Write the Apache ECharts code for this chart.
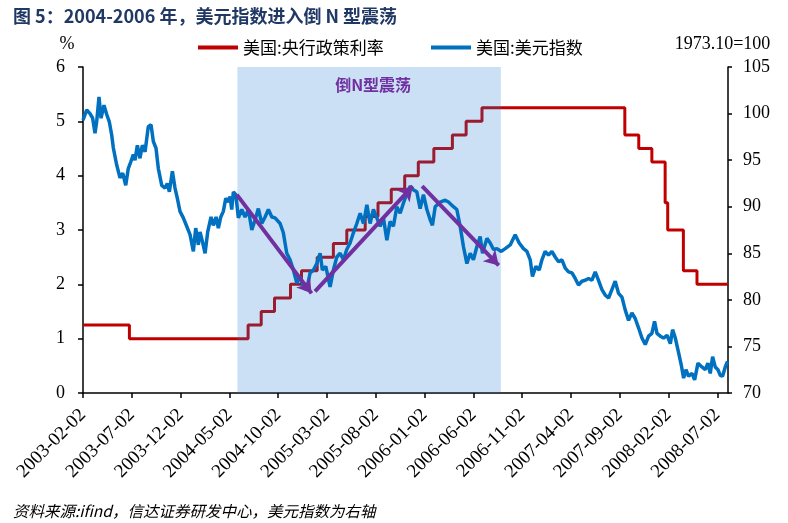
<!DOCTYPE html>
<html>
<head>
<meta charset="utf-8">
<script src="https://cdn.jsdelivr.net/npm/echarts@6/dist/echarts.min.js"></script>
<style>html,body{margin:0;padding:0;background:#fff}#c{width:788px;height:523px}</style>
</head>
<body>
<div id="c"></div>
<script>
// ---------- data ----------
const titleText = '图 5：2004-2006 年，美元指数进入倒 N 型震荡';
const sourceText = '资料来源:ifind，信达证券研发中心，美元指数为右轴';
const rateSeriesName = '美国:央行政策利率';
const dxySeriesName = '美国:美元指数';
const leftAxisName = '%';
const rightAxisName = '1973.10=100';

// x axis: months since 2003-02-02
const xTickLabels = ['2003-02-02','2003-07-02','2003-12-02','2004-05-02','2004-10-02','2005-03-02','2005-08-02',
  '2006-01-02','2006-06-02','2006-11-02','2007-04-02','2007-09-02','2008-02-02','2008-07-02'];
const xEndDate = '2008-08-05';

// Fed policy rate (%), change dates
const rateChanges = [
  ['2003-02-02',1.25],['2003-06-25',1.00],['2004-06-30',1.25],['2004-08-10',1.50],['2004-09-21',1.75],
  ['2004-11-10',2.00],['2004-12-14',2.25],['2005-02-02',2.50],['2005-03-22',2.75],['2005-05-03',3.00],
  ['2005-06-30',3.25],['2005-08-09',3.50],['2005-09-20',3.75],['2005-11-01',4.00],['2005-12-13',4.25],
  ['2006-01-31',4.50],['2006-03-28',4.75],['2006-05-10',5.00],['2006-06-29',5.25],['2007-09-18',4.75],
  ['2007-10-31',4.50],['2007-12-11',4.25],['2008-01-22',3.50],['2008-01-30',3.00],['2008-03-18',2.25],
  ['2008-04-30',2.00]
];

// US dollar index (1973.10=100): [months since 2003-02-02, value]
const dxyPoints = [
  [0.00,99.3],[0.38,100.4],[0.72,100.0],[0.99,99.5],[1.23,97.9],[1.40,99.1],[1.64,101.8],[1.85,99.5],
  [2.15,100.9],[2.43,99.9],[2.70,99.1],[2.94,97.7],[3.11,96.3],[3.45,94.5],[3.79,93.1],[4.07,93.6],
  [4.38,92.3],[4.64,94.1],[4.89,94.8],[5.16,95.6],[5.33,95.0],[5.57,96.6],[5.84,95.2],[6.08,96.6],
  [6.36,95.9],[6.69,98.6],[6.97,98.8],[7.21,97.0],[7.48,96.3],[7.72,94.1],[8.07,92.3],[8.41,92.0],
  [8.64,92.5],[8.85,91.6],[9.16,93.8],[9.43,92.0],[9.67,90.9],[9.94,89.5],[10.28,88.8],[10.63,87.9],
  [10.97,87.0],[11.31,85.2],[11.55,87.7],[11.82,85.9],[11.99,87.3],[12.23,86.3],[12.51,85.0],[12.78,87.3],
  [13.12,88.9],[13.36,88.0],[13.64,88.9],[13.87,87.7],[14.12,88.9],[14.38,89.5],[14.63,90.9],[14.90,90.5],
  [15.07,91.1],[15.24,89.7],[15.41,91.6],[15.66,91.3],[15.76,91.4],[15.92,88.8],[16.27,89.7],[16.61,88.9],
  [16.95,89.7],[17.30,87.5],[17.64,88.6],[17.97,89.8],[18.32,88.2],[18.66,88.9],[19.00,89.7],[19.35,88.9],
  [19.68,88.8],[20.20,88.2],[20.53,87.2],[20.88,85.0],[21.22,84.3],[21.56,83.2],[21.91,81.8],[22.25,82.5],
  [22.59,81.4],[22.93,81.1],[23.27,82.9],[23.61,83.2],[23.96,83.9],[24.30,85.0],[24.53,83.2],[24.88,83.6],
  [25.32,81.4],[25.66,83.2],[26.01,84.6],[26.35,85.0],[26.69,84.3],[27.03,85.4],[27.37,86.1],[27.71,87.2],
  [28.06,88.2],[28.40,89.3],[28.74,88.2],[29.09,90.2],[29.42,88.2],[29.76,89.7],[30.11,88.8],[30.45,87.9],
  [30.79,88.8],[31.14,86.4],[31.47,88.4],[31.81,87.9],[32.16,90.0],[32.50,89.3],[32.84,90.4],[33.19,91.4],
  [33.53,92.2],[33.87,91.8],[34.21,91.6],[34.55,89.8],[34.89,91.3],[35.24,89.7],[35.58,88.6],[35.81,88.0],
  [36.09,90.0],[36.60,90.5],[37.11,90.7],[37.45,90.5],[37.96,90.0],[38.31,89.7],[38.65,87.9],[38.99,85.7],
  [39.34,83.9],[39.68,85.0],[40.01,84.3],[40.36,85.7],[40.70,86.8],[40.94,85.0],[41.39,86.6],[41.73,86.1],
  [42.07,85.4],[42.42,85.5],[42.86,85.2],[43.27,85.5],[43.78,85.9],[44.29,87.0],[44.70,86.1],[45.14,85.5],
  [45.49,85.2],[45.83,84.3],[46.06,82.5],[46.41,83.6],[46.75,83.2],[47.03,84.3],[47.36,85.2],[47.70,84.8],
  [48.05,85.2],[48.39,84.6],[48.73,84.1],[49.08,84.3],[49.42,83.4],[49.76,83.0],[50.11,82.9],[50.44,82.3],
  [50.78,81.6],[51.13,82.0],[51.47,82.1],[51.81,82.3],[52.15,82.1],[52.49,83.0],[52.83,82.1],[53.18,81.1],
  [53.52,80.5],[53.86,80.2],[54.20,81.1],[54.54,82.0],[54.88,80.7],[55.23,80.3],[55.57,78.9],[55.91,77.8],
  [56.25,78.6],[56.59,78.0],[56.93,77.0],[57.28,75.9],[57.62,75.2],[57.96,76.1],[58.30,76.4],[58.57,77.7],
  [58.82,76.4],[59.16,76.1],[59.50,75.9],[59.85,76.2],[60.19,75.3],[60.42,76.8],[60.70,75.9],[61.04,74.3],
  [61.31,73.0],[61.55,71.6],[61.79,72.5],[62.06,71.8],[62.41,72.1],[62.68,71.4],[63.02,73.2],[63.43,72.8],
  [63.77,72.5],[64.04,73.2],[64.28,72.1],[64.52,73.9],[64.79,72.8],[65.07,72.5],[65.31,71.9],[65.54,71.8],
  [65.82,72.8],[66.05,73.4]
];

// shaded period and annotation
const shadeRange = ['2004-05-27','2006-08-27'];
const shadeLabel = '倒N型震荡';
// arrows: [[months, index], [months, index]] (index on right axis)
const arrowSegments = [
  [[15.76,91.3],[23.42,80.7]],
  [[23.78,80.9],[33.79,92.2]],
  [[34.75,92.2],[42.60,83.7]]
];

// ---------- helpers ----------
function toMonths(s){
  const p = s.split('-').map(Number);
  return (p[0]-2003)*12 + (p[1]-2) + (p[2]-2)/30.44;
}
const xMax = toMonths(xEndDate);
const rateData = rateChanges.map(r => [toMonths(r[0]), r[1]]);
rateData.push([xMax, rateChanges[rateChanges.length-1][1]]);

const serif = '"Liberation Serif","Times New Roman",serif';
const cjk = '"Noto Sans CJK SC","Noto Sans",sans-serif';

const chart = echarts.init(document.getElementById('c'), null, {renderer:'canvas'});
chart.setOption({
  animation: false,
  backgroundColor: '#fff',
  title: [
    {text: titleText, left: 8, top: 2,
     textStyle: {fontFamily: cjk, fontSize: 18, fontWeight: 'bold', color: '#1F3864'}},
    {text: sourceText, left: 8, top: 498,
     textStyle: {fontFamily: cjk, fontSize: 15.5, fontWeight: 'normal', fontStyle: 'italic', color: '#000'}}
  ],
  legend: [
    {data: [rateSeriesName], left: 193, top: 34, icon: 'rect', itemWidth: 40, itemHeight: 4,
     textStyle: {fontFamily: cjk, fontSize: 17, color: '#000'}},
    {data: [dxySeriesName], left: 426, top: 34, icon: 'rect', itemWidth: 40, itemHeight: 4,
     textStyle: {fontFamily: cjk, fontSize: 17, color: '#000'}}
  ],
  grid: {left: 83, right: 60, top: 67, bottom: 130, outerBoundsMode: 'none'},
  xAxis: {
    type: 'value', min: 0, max: xMax, interval: 5,
    splitLine: {show: false},
    axisLine: {lineStyle: {color: '#000', width: 1.5}},
    axisTick: {length: 5, lineStyle: {color: '#000', width: 1.5}},
    axisLabel: {
      rotate: 45, margin: 19, fontFamily: serif, fontSize: 19, color: '#000',
      showMaxLabel: false,
      formatter: v => (Math.abs(v/5 - Math.round(v/5)) < 1e-6 ? (xTickLabels[Math.round(v/5)] || '') : '')
    }
  },
  yAxis: [
    {type: 'value', min: 0, max: 6, interval: 1, position: 'left',
     name: leftAxisName, nameLocation: 'end', nameGap: 14,
     nameTextStyle: {fontFamily: serif, fontSize: 18, color: '#000', padding: [0, 32, 0, 0]},
     splitLine: {show: false},
     axisLine: {show: true, lineStyle: {color: '#000', width: 1.5}},
     axisTick: {show: true, length: 5, lineStyle: {color: '#000', width: 1.5}},
     axisLabel: {margin: 18, fontFamily: serif, fontSize: 18, color: '#000'}},
    {type: 'value', min: 70, max: 105, interval: 5, position: 'right',
     name: rightAxisName, nameLocation: 'end', nameGap: 14,
     nameTextStyle: {fontFamily: serif, fontSize: 18, color: '#000', padding: [0, 11, 0, 0]},
     splitLine: {show: false},
     axisLine: {show: true, lineStyle: {color: '#000', width: 1.5}},
     axisTick: {show: true, length: 4, lineStyle: {color: '#000', width: 1.5}},
     axisLabel: {margin: 15, fontFamily: serif, fontSize: 18, color: '#000'}}
  ],
  series: [
    {name: rateSeriesName, type: 'line', yAxisIndex: 0, step: 'end', data: rateData,
     showSymbol: false, symbol: 'none', z: 2, color: '#C00000',
     lineStyle: {color: '#C00000', width: 3}},
    {name: 'shade', type: 'custom', coordinateSystem: 'cartesian2d', yAxisIndex: 0, z: 3,
     data: [[toMonths(shadeRange[0]), toMonths(shadeRange[1])]],
     encode: {x: [0, 1]}, clip: false, silent: true,
     renderItem: function(params, api){
       const p0 = api.coord([api.value(0), 6]);
       const p1 = api.coord([api.value(1), 0]);
       return {type: 'group', children: [
         {type: 'rect', shape: {x: p0[0], y: p0[1], width: p1[0]-p0[0], height: p1[1]-p0[1]},
          style: {fill: 'rgba(29,119,211,0.23)'}},
         {type: 'text', x: (p0[0]+p1[0])/2 + 4, y: p0[1] + 18,
          style: {text: shadeLabel, fill: '#7030A0', font: 'bold 16px ' + cjk, align: 'center', verticalAlign: 'middle'}}
       ]};
     }},
    {name: dxySeriesName, type: 'line', yAxisIndex: 1, data: dxyPoints,
     showSymbol: false, symbol: 'none', z: 4, color: '#0070C0',
     lineStyle: {color: '#0070C0', width: 3.5},
     markLine: {
       silent: true, symbol: ['none', 'arrow'], symbolSize: [13, 14],
       lineStyle: {color: '#7030A0', width: 4, type: 'solid'},
       label: {show: false},
       data: arrowSegments.map(s => [{coord: s[0]}, {coord: s[1]}])
     }}
  ]
});
</script>
</body>
</html>
